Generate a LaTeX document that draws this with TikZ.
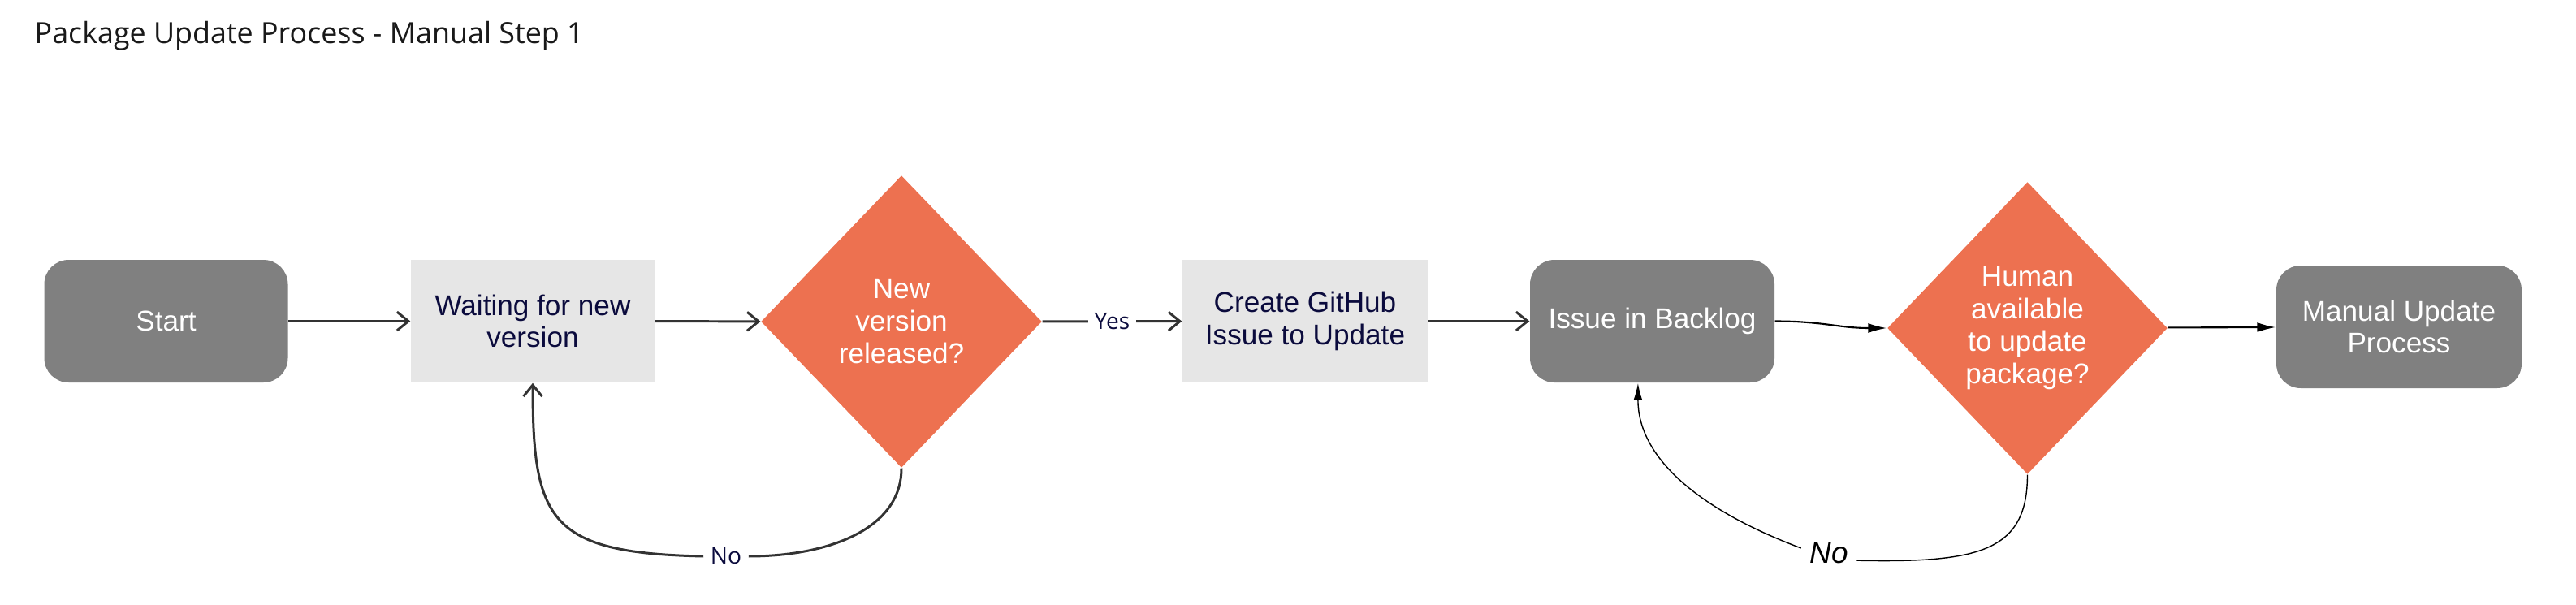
\documentclass[tikz,border=0pt]{standalone}
\usepackage{fontspec}
\setmainfont{Liberation Sans}
\newfontfamily\opensans{Open Sans}
\usetikzlibrary{shapes}
\usetikzlibrary{arrows.meta}
\definecolor{boxgray}{HTML}{808080}
\definecolor{boxlight}{HTML}{E6E6E6}
\definecolor{boxorange}{HTML}{ED7150}
\definecolor{txtnavy}{HTML}{0B0B3D}
\definecolor{linedark}{HTML}{333333}
\tikzset{
    mynodeg/.style = {rectangle, rounded corners=0.3cm, fill=boxgray, minimum width=3.0cm, minimum height=1.51cm, inner sep=0pt, align=center, text=white, font=\fontsize{10}{11.2}\selectfont},
    mynodel/.style = {rectangle, fill=boxlight, minimum width=3.0cm, minimum height=1.51cm, inner sep=0pt, align=center, text=txtnavy, font=\fontsize{10}{11.2}\selectfont},
    mynodeo/.style = {diamond, aspect=1, fill=boxorange, minimum width=3.46cm, minimum height=3.6cm, inner sep=1pt, align=center, text=white, font=\fontsize{10}{11.4}\selectfont},
    mylabel/.style = {inner sep=0.08cm, text=txtnavy, font=\opensans\fontsize{8}{9.6}\selectfont},
    mylabelb/.style = {inner sep=0.1cm, text=black, font=\itshape\fontsize{10.5}{12}\selectfont},
    edgen/.style = {-{Straight Barb[length=4pt,width=6.5pt]}, line width=0.85pt, linedark},
    edgeb/.style = {-{Latex[length=6.5pt,width=3.4pt]}, line width=0.6pt, black},
    edgebt/.style = {-{Latex[length=6pt,width=3.1pt]}, line width=0.4pt, black}
}
\begin{document}
\begin{tikzpicture}
\useasboundingbox (0,0) rectangle (31.72,7.44);
\node[anchor=base west, inner sep=0pt, text=black!90, font=\opensans\fontsize{10.2}{12}\selectfont] (title) at (0.42, 6.90) {Package Update Process - Manual Step 1};
%
\node[mynodeg] at (2.045, 3.485) (start) {Start};
\node[mynodel] at (6.56, 3.485) (wait) {Waiting for new\\version};
\node[mynodeo] at (11.10, 3.48) (d1) {New\\version\\released?};
\node[mynodel, minimum width=3.02cm] at (16.07, 3.485) (create) {Create GitHub\\Issue to Update};
\node[mynodeg, minimum width=3.01cm] at (20.345, 3.485) (backlog) {Issue in Backlog};
\node[mynodeo, minimum width=3.45cm] at (24.965, 3.40) (d2) {Human\\available\\to update\\package?};
\node[mynodeg, minimum width=3.02cm] at (29.54, 3.415) (manual) {Manual Update\\Process};
\node[mylabel] at (8.94, 0.59) (no1) {No};
\node[mylabelb] at (22.52, 0.63) (no2) {No};
%
\draw[edgen] (start) edge node {} (wait);
\draw[edgen] (wait) edge node {} (d1);
\draw[edgen] (d1) edge node[mylabel, fill=white] {Yes} (create);
\draw[edgen] (create) edge node {} (backlog);
\draw[edgen, -] (d1.south) .. controls +(0,-0.75) and +(0.98,0) .. (no1.east);
\draw[edgen] (no1.west) .. controls +(-1.9,0.04) and +(0,-1.7) .. (wait.south);
\draw[edgeb] (backlog.east) .. controls +(0.6,0) and +(-0.6,0) .. (d2.west);
\draw[edgeb] (d2) edge node {} (manual);
\draw[edgebt, -] (d2.south) .. controls +(0,-0.95) and +(1.5,-0.03) .. (no2.-15);
\draw[edgebt] (no2.170) .. controls +(-1.2,0.45) and +(0,-0.95) .. (backlog.257);
\end{tikzpicture}
\end{document}
